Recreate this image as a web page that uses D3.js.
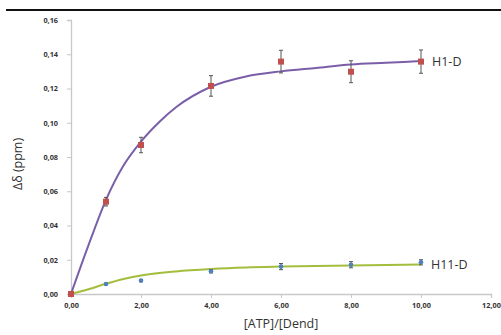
<!DOCTYPE html>
<html><head><meta charset="utf-8">
<script src="https://cdn.jsdelivr.net/npm/d3@7"></script>
<style>body{margin:0;background:#fff}svg{display:block}</style>
</head><body>
<svg id="c" width="501" height="335"></svg>
<script>
const xTicks = [0,2,4,6,8,10,12];
const yTicks = [0,0.02,0.04,0.06,0.08,0.10,0.12,0.14,0.16];
const ratioX = [0,1,2,4,6,8,10];
const h1Values = [0,0.0539,0.087,0.1215,0.1357,0.1298,0.1357];
const h1Errors = [0,0.0025,0.0045,0.006,0.0066,0.0064,0.0068];
const h11Values = [0,0.0058,0.0078,0.0133,0.016,0.0171,0.0185];
const h11Errors = [0,0.0004,0.0004,0.001,0.0018,0.0018,0.0015];
const h1FitX = [0,0.5,1,1.5,2,2.5,3,4,5,6,7,8,9,10];
const h1FitY = [0,0.0285,0.055,0.075,0.089,0.100,0.109,0.121,0.127,0.130,0.132,0.134,0.135,0.136];
const h11FitX = [0,0.5,1,1.5,2,3,4,5,6,8,10];
const h11FitY = [0,0.0028,0.0060,0.0088,0.0108,0.0132,0.0146,0.0155,0.0160,0.0167,0.0172];
const seriesLabels = ["H1-D","H11-D"];

const svg = d3.select("#c");
const x = d3.scaleLinear().domain([0,12]).range([71,491]);
const y = d3.scaleLinear().domain([0,0.16]).range([294,20]);
const fmt = d => d3.format(".2f")(d).replace(".", ",");

// top rule
svg.append("line").attr("x1",6).attr("x2",501).attr("y1",10).attr("y2",10)
  .attr("stroke","#111").attr("stroke-width",2);

const axisColor = "#c8c8c8";
const gx = svg.append("g").attr("transform","translate(0,294)")
  .call(d3.axisBottom(x).tickValues(xTicks).tickFormat(fmt).tickSize(4).tickPadding(5));
const gy = svg.append("g").attr("transform","translate(71,0)")
  .call(d3.axisLeft(y).tickValues(yTicks).tickFormat(fmt).tickSize(4).tickPadding(9));
[gx,gy].forEach(g=>{
  g.select(".domain").attr("stroke",axisColor).attr("stroke-width",1.3);
  g.selectAll(".tick line").attr("stroke",axisColor);
  g.selectAll(".tick text").attr("fill","#333").attr("font-size",7.3)
    .attr("font-weight","bold").attr("font-family","Open Sans, sans-serif");
});

svg.append("text").attr("x",281).attr("y",328).attr("text-anchor","middle")
  .attr("font-family","Open Sans, sans-serif").attr("font-size",12.5).attr("fill","#333")
  .text("[ATP]/[Dend]");
svg.append("text").attr("transform","translate(22,164) rotate(-90)").attr("text-anchor","middle")
  .attr("font-family","Open Sans, sans-serif").attr("font-size",12.5).attr("fill","#333")
  .text("Δδ (ppm)");

const line = d3.line().x(d=>x(d[0])).y(d=>y(d[1])).curve(d3.curveMonotoneX);
svg.append("path").datum(h1FitX.map((v,i)=>[v,h1FitY[i]])).attr("d",line)
  .attr("fill","none").attr("stroke","#7a5fa8").attr("stroke-width",2);
svg.append("path").datum(h11FitX.map((v,i)=>[v,h11FitY[i]])).attr("d",line)
  .attr("fill","none").attr("stroke","#a3bd3c").attr("stroke-width",2);

function errBars(vals, errs){
  const g = svg.append("g").attr("stroke","#555").attr("stroke-width",1);
  ratioX.forEach((xv,i)=>{
    if(!errs[i]) return;
    const cx = x(xv), y0 = y(vals[i]-errs[i]), y1 = y(vals[i]+errs[i]);
    g.append("line").attr("x1",cx).attr("x2",cx).attr("y1",y0).attr("y2",y1);
    g.append("line").attr("x1",cx-2).attr("x2",cx+2).attr("y1",y0).attr("y2",y0);
    g.append("line").attr("x1",cx-2).attr("x2",cx+2).attr("y1",y1).attr("y2",y1);
  });
}
errBars(h11Values,h11Errors);
svg.append("g").selectAll("circle").data(ratioX.map((v,i)=>[v,h11Values[i]])).join("circle")
  .attr("cx",d=>x(d[0])).attr("cy",d=>y(d[1])).attr("r",2.3).attr("fill","#4f81bd");
errBars(h1Values,h1Errors);
svg.append("g").selectAll("rect").data(ratioX.map((v,i)=>[v,h1Values[i]])).join("rect")
  .attr("x",d=>x(d[0])-3).attr("y",d=>y(d[1])-3).attr("width",6).attr("height",6).attr("fill","#c0504d");

svg.append("text").attr("x",432).attr("y",y(0.1357)+4.5).attr("font-family","Open Sans, sans-serif")
  .attr("font-size",12.5).attr("fill","#333").text(seriesLabels[0]);
svg.append("text").attr("x",431).attr("y",y(0.0172)+4.5).attr("font-family","Open Sans, sans-serif")
  .attr("font-size",12.5).attr("fill","#333").text(seriesLabels[1]);
</script>
</body></html>
